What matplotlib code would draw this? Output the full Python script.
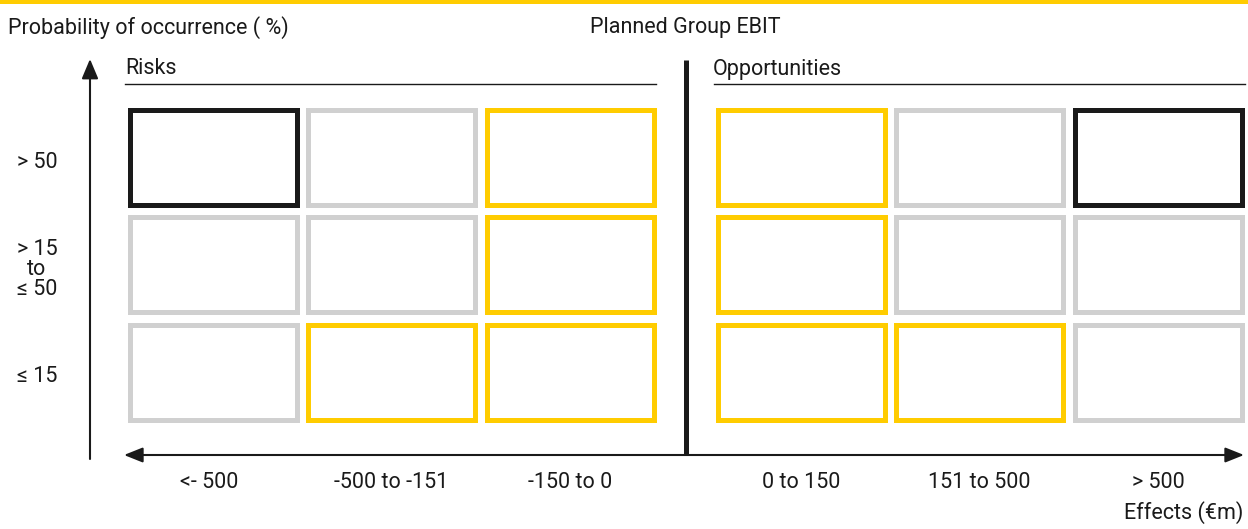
import matplotlib.pyplot as plt
from matplotlib.patches import Rectangle

plt.rcParams['font.family'] = ['Roboto', 'DejaVu Sans']

# data
risk_cols = ['<- 500', '-500 to -151', '-150 to 0']
opp_cols = ['0 to 150', '151 to 500', '> 500']
row_labels = ['> 50', '> 15\nto\n≤ 50', '≤ 15']
risk_colors = [['k', 'g', 'y'],
               ['g', 'g', 'y'],
               ['g', 'y', 'y']]
opp_colors = [['y', 'g', 'k'],
              ['y', 'g', 'g'],
              ['y', 'y', 'g']]

cmap = {'k': '#1a1a1a', 'g': '#d0d0d0', 'y': '#ffcc00'}
W, H = 1248, 529

fig = plt.figure(figsize=(W / 100, H / 100), dpi=100)
ax = fig.add_axes([0, 0, 1, 1])
ax.set_xlim(0, W)
ax.set_ylim(H, 0)
ax.axis('off')

# top yellow band
ax.add_patch(Rectangle((0, 0), W, 4, color='#ffcc00', lw=0))

lw = 3.6
cw, ch = 172, 100
col_step, row_step = 178.5, 107.5
row_top = 107

def draw_grid(x0, colors):
    for r, row in enumerate(colors):
        for c, key in enumerate(row):
            x = x0 + c * col_step
            y = row_top + r * row_step
            ax.add_patch(Rectangle((x + 2.5, y + 2.5), cw - 5, ch - 5, fill=False,
                                   edgecolor=cmap[key], lw=lw, joinstyle='miter'))

draw_grid(127, risk_colors)
draw_grid(715, opp_colors)

fs = 15.5
tc = '#1a1a1a'
ax.text(8, 28, 'Probability of occurrence ( %)', fontsize=fs, va='center', ha='left', color=tc)
ax.text(590, 28, 'Planned Group EBIT', fontsize=fs, va='center', ha='left', color=tc)
ax.text(125, 69, 'Risks', fontsize=fs, va='center', ha='left', color=tc)
ax.text(713, 69, 'Opportunities', fontsize=fs, va='center', ha='left', color=tc)
ax.plot([125, 656], [84, 84], color=tc, lw=1)
ax.plot([714, 1245], [84, 84], color=tc, lw=1)

# divider
ax.plot([686, 686], [60, 455], color=tc, lw=3.6, solid_capstyle='butt')

# arrows
ax.annotate('', xy=(90, 59), xytext=(90, 459),
            arrowprops=dict(arrowstyle='-|>,head_length=1.0,head_width=0.42', color=tc, lw=1.5,
                            shrinkA=0, shrinkB=0, mutation_scale=12))
ax.annotate('', xy=(124, 455), xytext=(1244, 455),
            arrowprops=dict(arrowstyle='<|-|>,head_length=0.95,head_width=0.38', color=tc, lw=1.5,
                            shrinkA=0, shrinkB=0, mutation_scale=12))

# column labels
for i, lab in enumerate(risk_cols):
    ax.text(127 + i * col_step + cw / 2 - (4 if i == 0 else 0), 483, lab, fontsize=fs,
            ha='center', va='center', color=tc)
for i, lab in enumerate(opp_cols):
    ax.text(715 + i * col_step + cw / 2, 483, lab, fontsize=fs,
            ha='center', va='center', color=tc)
ax.text(1243, 513, 'Effects (€m)', fontsize=fs, ha='right', va='center', color=tc)

# row labels
for r, lab in enumerate(row_labels):
    ax.text(37, row_top + r * row_step + ch / 2 + 5, lab, fontsize=fs, ha='center', va='center',
            color=tc, linespacing=0.95)

fig.savefig('out.png', dpi=100)
